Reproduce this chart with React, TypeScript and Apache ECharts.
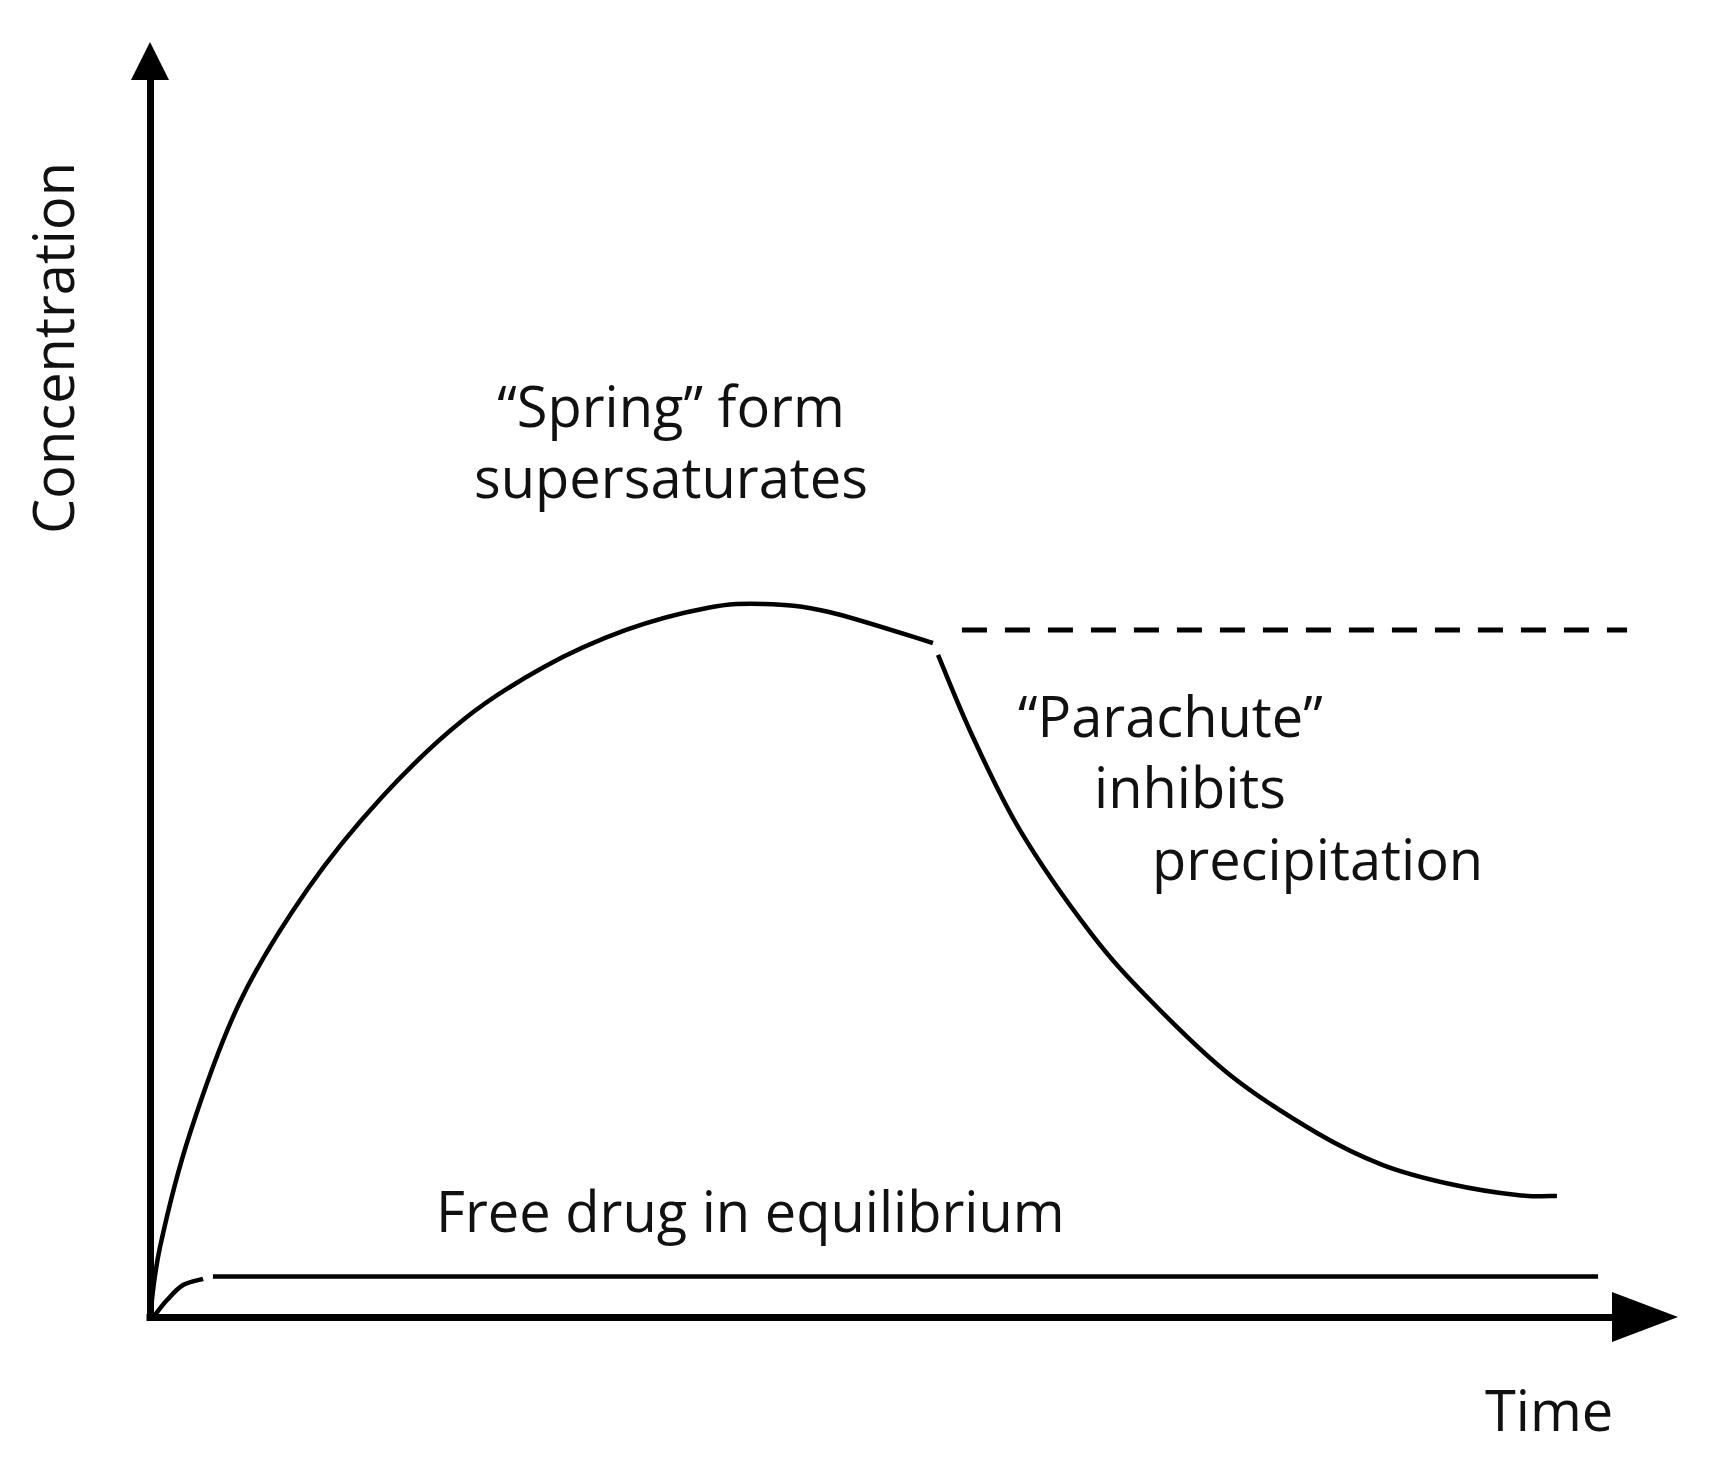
import React, { useEffect, useRef } from "react";
import * as echarts from "echarts";

// "Spring" curve (rising, supersaturation)
const springTime = [0, 0.67, 2.68, 6.02, 10.5, 15.52, 20.94, 26.35, 31.84, 37.26, 41.07, 45.42, 52.37];
const springConc = [0, 5.57, 14.65, 25.1, 34.0, 41.4, 47.53, 51.75, 54.7, 56.45, 56.77, 56.13, 53.66];

// "Parachute" curve (decline, inhibited precipitation)
const parachuteTime = [52.71, 54.98, 58.19, 62.88, 66.89, 72.24, 78.06, 82.47, 86.96, 91.44, 94.11];
const parachuteConc = [52.71, 46.34, 38.77, 30.65, 25.24, 19.27, 14.65, 12.1, 10.59, 9.71, 9.63];

// dashed level (maintained supersaturation)
const dashedTime = [54.31, 98.8];
const dashedConc = [54.7, 54.7];

// free drug in equilibrium
const eqRiseTime = [0.33, 1.14, 2.21, 3.55];
const eqRiseConc = [0.16, 1.35, 2.55, 3.03];
const eqLineTime = [4.21, 96.86];
const eqLineConc = [3.22, 3.22];

const zip = (xs: number[], ys: number[]) => xs.map((x, i) => [x, ys[i]]);

const FONT = "'Open Sans', 'Noto Sans', sans-serif";
const TXT = "#111";

// smooth curve series: a Catmull-Rom spline through the data points, placed by the axes' scales
function curveSeries(name: string, xs: number[], ys: number[], width: number) {
  const data = zip(xs, ys);
  return {
    type: "custom" as const,
    name,
    coordinateSystem: "cartesian2d",
    silent: true,
    clip: false,
    encode: { x: 0, y: 1 },
    data,
    renderItem: (params: any, api: any) => {
      if (params.dataIndex !== 0) return null;
      const p = data.map((d) => api.coord(d));
      let d = `M${p[0][0]},${p[0][1]}`;
      for (let i = 0; i < p.length - 1; i++) {
        const p0 = p[i - 1] || p[i];
        const p1 = p[i];
        const p2 = p[i + 1];
        const p3 = p[i + 2] || p[i + 1];
        const c1x = p1[0] + (p2[0] - p0[0]) / 6;
        const c1y = p1[1] + (p2[1] - p0[1]) / 6;
        const c2x = p2[0] - (p3[0] - p1[0]) / 6;
        const c2y = p2[1] - (p3[1] - p1[1]) / 6;
        d += ` C${c1x},${c1y} ${c2x},${c2y} ${p2[0]},${p2[1]}`;
      }
      return {
        type: "path",
        shape: { pathData: d },
        style: { fill: "none", stroke: "#000", lineWidth: width, lineCap: "butt", lineJoin: "round" },
      };
    },
  };
}

export default function App() {
  const ref = useRef<HTMLDivElement>(null);
  useEffect(() => {
    if (!ref.current) return;
    const chart = echarts.init(ref.current, undefined, { renderer: "svg" });
    const lineBase = {
      type: "line" as const,
      showSymbol: false,
      symbol: "none",
      silent: true,
      color: "#000",
    };
    const textStyle = (extra: any) => ({
      fontFamily: FONT,
      fontSize: 56,
      fill: TXT,
      textVerticalAlign: "middle",
      ...extra,
    });
    chart.setOption({
      animation: false,
      backgroundColor: "#fff",
      grid: { left: 150, top: 61, width: 1495, height: 1256, outerBoundsMode: "none" },
      xAxis: {
        type: "value",
        min: 0,
        max: 100,
        axisLine: {
          show: true,
          symbol: ["none", "triangle"],
          symbolSize: [50, 66],
          lineStyle: { color: "#000", width: 7, cap: "square" },
        },
        axisTick: { show: false },
        axisLabel: { show: false },
        splitLine: { show: false },
      },
      yAxis: {
        type: "value",
        min: 0,
        max: 100,
        axisLine: {
          show: true,
          symbol: ["none", "triangle"],
          symbolSize: [38, 38],
          lineStyle: { color: "#000", width: 7, cap: "square" },
        },
        axisTick: { show: false },
        axisLabel: { show: false },
        splitLine: { show: false },
      },
      series: [
        curveSeries("Spring", springTime, springConc, 4.5),
        curveSeries("Parachute", parachuteTime, parachuteConc, 4.5),
        {
          ...lineBase,
          name: "Supersaturation level",
          data: zip(dashedTime, dashedConc),
          lineStyle: { color: "#000", width: 5, type: [25, 18] },
        },
        curveSeries("Equilibrium rise", eqRiseTime, eqRiseConc, 4.5),
        {
          ...lineBase,
          name: "Free drug in equilibrium",
          data: zip(eqLineTime, eqLineConc),
          lineStyle: { color: "#000", width: 4.5 },
        },
      ],
      graphic: [
        { type: "text", x: 671, y: 405, style: textStyle({ text: "\u201CSpring\u201D form", textAlign: "center" }) },
        { type: "text", x: 671, y: 476, style: textStyle({ text: "supersaturates", textAlign: "center" }) },
        { type: "text", x: 1018, y: 715, style: textStyle({ text: "\u201CParachute\u201D", textAlign: "left" }) },
        { type: "text", x: 1094, y: 786, style: textStyle({ text: "inhibits", textAlign: "left" }) },
        { type: "text", x: 1152, y: 858, style: textStyle({ text: "precipitation", textAlign: "left" }) },
        { type: "text", x: 436, y: 1210, style: textStyle({ text: "Free drug in equilibrium", textAlign: "left" }) },
        { type: "text", x: 1485, y: 1409, style: textStyle({ text: "Time", textAlign: "left" }) },
        {
          type: "text",
          x: 52,
          y: 348,
          rotation: Math.PI / 2,
          style: textStyle({ text: "Concentration", textAlign: "center" }),
        },
      ],
    });
    return () => chart.dispose();
  }, []);
  return (
    <div
      ref={ref}
      style={{ position: "fixed", left: 0, top: 0, width: 1712, height: 1468, background: "#fff" }}
    />
  );
}
